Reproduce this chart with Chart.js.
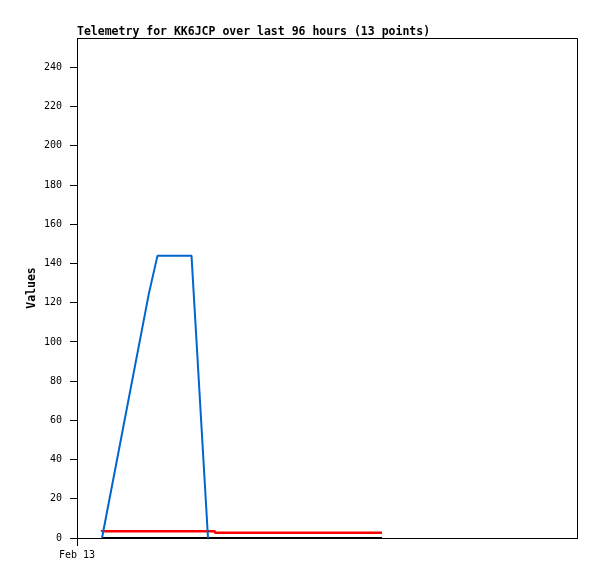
<!DOCTYPE html>
<html lang="en">
<head>
    <meta charset="UTF-8">
    <title>Telemetry</title>
    <script src="https://cdn.jsdelivr.net/npm/chart.js"></script>
    <style>
        body { margin: 0; background: #fff; }
    </style>
</head>
<body>
<div style="width: 597px; height: 579px"><canvas id="telemetry"></canvas></div>

<script type="text/javascript">
    // hours since Feb 13 00:00 (axis runs 0..100)
    const blueX = [5.0, 14.4, 16.1, 22.9, 26.2];
    const blueY = [0, 125, 144, 144, 0];

    // red changes level at each point (stepped)
    const redX = [5.0, 27.6, 30.4, 61.0];
    const redY = [4.1, 3.4, 2.7, 2.7];

    const blackX = [5.0, 61.0];
    const blackY = [0, 0];

    const yTicks = [0, 20, 40, 60, 80, 100, 120, 140, 160, 180, 200, 220, 240];
    const xTickLabels = {0: 'Feb 13'};

    function pts(xs, ys) {
        return xs.map((x, i) => ({x: x, y: ys[i]}));
    }

    const frame = {
        id: 'frame',
        afterDraw(chart) {
            const a = chart.chartArea;
            const ctx = chart.ctx;
            ctx.save();
            ctx.strokeStyle = '#000';
            ctx.lineWidth = 1;
            ctx.beginPath();
            ctx.moveTo(a.left, a.top + 0.5);
            ctx.lineTo(a.right + 0.5, a.top + 0.5);
            ctx.lineTo(a.right + 0.5, a.bottom);
            ctx.stroke();
            ctx.restore();
        }
    };

    const mono = '"DejaVu Sans Mono", monospace';

    new Chart(document.getElementById('telemetry').getContext('2d'), {
        type: 'line',
        data: {
            datasets: [
                {data: pts(blueX, blueY), borderColor: '#0066cc', borderWidth: 2},
                {data: pts(redX, redY), borderColor: '#ff0000', borderWidth: 2.5, stepped: 'after'},
                {data: pts(blackX, blackY), borderColor: '#000000', borderWidth: 2}
            ]
        },
        options: {
            responsive: true,
            maintainAspectRatio: false,
            animation: false,
            events: [],
            layout: {padding: {left: 0, right: 20, top: 0, bottom: 0}},
            elements: {
                point: {radius: 0},
                line: {tension: 0, fill: false, borderJoinStyle: 'bevel'}
            },
            datasets: {line: {clip: false}},
            plugins: {
                legend: {display: false},
                tooltip: {enabled: false},
                title: {
                    display: true,
                    text: 'Telemetry for KK6JCP over last 96 hours (13 points)',
                    align: 'start',
                    fullSize: false,
                    color: '#000',
                    font: {family: mono, size: 11.5, weight: 'bold', lineHeight: 1},
                    padding: {top: 26, bottom: 0.5}
                }
            },
            scales: {
                x: {
                    type: 'linear',
                    min: 0,
                    max: 100,
                    afterBuildTicks: axis => { axis.ticks = [{value: 0}]; },
                    afterFit: axis => { axis.height = 41; },
                    grid: {display: true, drawOnChartArea: false, drawTicks: true, tickLength: 8, color: '#000'},
                    border: {display: true, color: '#000', width: 1},
                    ticks: {
                        color: '#000',
                        font: {family: mono, size: 10},
                        padding: 3,
                        maxRotation: 0,
                        callback: v => xTickLabels[v] || ''
                    }
                },
                y: {
                    min: 0,
                    max: 255,
                    afterBuildTicks: axis => { axis.ticks = yTicks.map(v => ({value: v})); },
                    afterFit: axis => { axis.width = 77; },
                    grid: {display: true, drawOnChartArea: false, drawTicks: true, tickLength: 7, color: '#000'},
                    border: {display: true, color: '#000', width: 1},
                    title: {
                        display: true,
                        text: 'Values',
                        color: '#000',
                        font: {family: mono, size: 11.5, weight: 'bold', lineHeight: 1.2},
                        padding: {top: 25, bottom: 0}
                    },
                    ticks: {
                        color: '#000',
                        font: {family: mono, size: 10},
                        padding: 8
                    }
                }
            }
        },
        plugins: [frame]
    });
</script>
</body>
</html>
